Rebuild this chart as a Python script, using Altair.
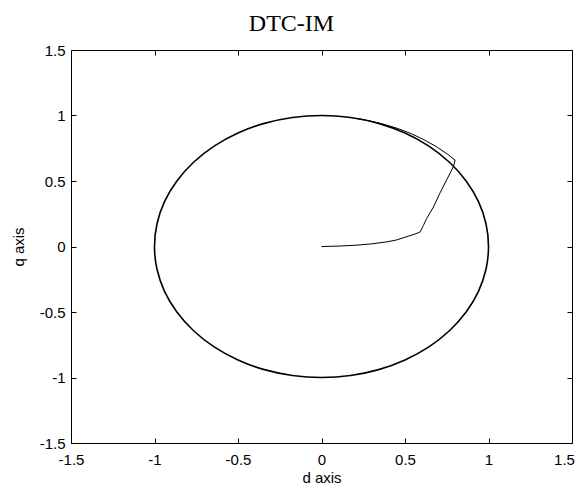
import altair as alt
import pandas as pd

# steady-state flux locus (d, q)
circle_d = [1.0, 0.985, 0.94, 0.866, 0.766, 0.643, 0.5, 0.342, 0.174, 0.0,
            -0.174, -0.342, -0.5, -0.643, -0.766, -0.866, -0.94, -0.985,
            -1.0, -0.985, -0.94, -0.866, -0.766, -0.643, -0.5, -0.342, -0.174,
            0.0, 0.174, 0.342, 0.5, 0.643, 0.766, 0.866, 0.94, 0.985]
circle_q = [0.0, 0.174, 0.342, 0.5, 0.643, 0.766, 0.866, 0.94, 0.985, 1.0,
            0.985, 0.94, 0.866, 0.766, 0.643, 0.5, 0.342, 0.174,
            0.0, -0.174, -0.342, -0.5, -0.643, -0.766, -0.866, -0.94, -0.985,
            -1.0, -0.985, -0.94, -0.866, -0.766, -0.643, -0.5, -0.342, -0.174]

# start-up transient of the flux (d, q)
start_d = [0.0, 0.1, 0.21, 0.30, 0.39, 0.45, 0.51, 0.56, 0.59, 0.61, 0.63,
           0.67, 0.71, 0.75, 0.79, 0.80, 0.755, 0.687, 0.614, 0.538, 0.459,
           0.376, 0.293, 0.208]
start_q = [0.0, 0.003, 0.01, 0.02, 0.035, 0.05, 0.075, 0.095, 0.11, 0.16, 0.215,
           0.30, 0.41, 0.51, 0.61, 0.66, 0.704, 0.763, 0.815, 0.861, 0.900,
           0.932, 0.958, 0.978]

tick_values = [-1.5, -1, -0.5, 0, 0.5, 1, 1.5]

circle_df = pd.DataFrame({"d": circle_d, "q": circle_q, "i": list(range(len(circle_d)))})
start_df = pd.DataFrame({"d": start_d, "q": start_q, "i": list(range(len(start_d)))})

scale = alt.Scale(domain=[-1.5, 1.5], nice=False, zero=False)
FONT = "Liberation Sans"

common = dict(values=tick_values, offset=-5, tickSize=5, domain=False, grid=False,
              tickColor="black", tickWidth=1, labelOverlap=False, labelFlush=False)

bottom_axis = alt.Axis(orient="bottom", labelPadding=9, labelExpr="'' + datum.value",
                       labelFont=FONT, labelFontSize=15, labelColor="black",
                       labelOffset=alt.condition("datum.value == 1.5", alt.value(-8), alt.value(0)),
                       title="d axis", titleFont=FONT, titleFontSize=15,
                       titleFontWeight="normal", titleColor="black",
                       titleY=44, titleBaseline="alphabetic", **common)
left_axis = alt.Axis(orient="left", labelPadding=6, labelExpr="'' + datum.value",
                     labelFont=FONT, labelFontSize=15, labelColor="black",
                     title="q axis", titleFont=FONT, titleFontSize=15,
                     titleFontWeight="normal", titleColor="black",
                     titleX=-53, titleBaseline="alphabetic", **common)
top_axis = alt.Axis(orient="top", labels=False, title=None, **common)
right_axis = alt.Axis(orient="right", labels=False, title=None, **common)

circle = alt.Chart(circle_df).mark_line(
    color="black", strokeWidth=1.6, interpolate="cardinal-closed"
).encode(
    x=alt.X("d:Q", scale=scale, axis=bottom_axis),
    y=alt.Y("q:Q", scale=scale, axis=left_axis),
    order=alt.Order("i:Q"),
)

start = alt.Chart(start_df).mark_line(color="black", strokeWidth=1).encode(
    x=alt.X("d:Q", scale=scale, axis=top_axis),
    y=alt.Y("q:Q", scale=scale, axis=right_axis),
    order=alt.Order("i:Q"),
)

chart = alt.layer(circle, start).resolve_axis(
    x="independent", y="independent"
).properties(
    width=501,
    height=393,
    title=alt.TitleParams(
        text="DTC-IM", font="Liberation Serif", fontSize=24, fontWeight="normal",
        color="black", anchor="middle", frame="group", dx=-30,
        baseline="alphabetic", offset=-12,
    ),
    autosize=alt.AutoSizeParams(type="none"),
    padding={"left": 63, "top": 42, "right": 3, "bottom": 43},
    background="white",
).configure_view(stroke="black", strokeWidth=1)

chart.save("out.html", embed_options={"renderer": "svg", "actions": False})
